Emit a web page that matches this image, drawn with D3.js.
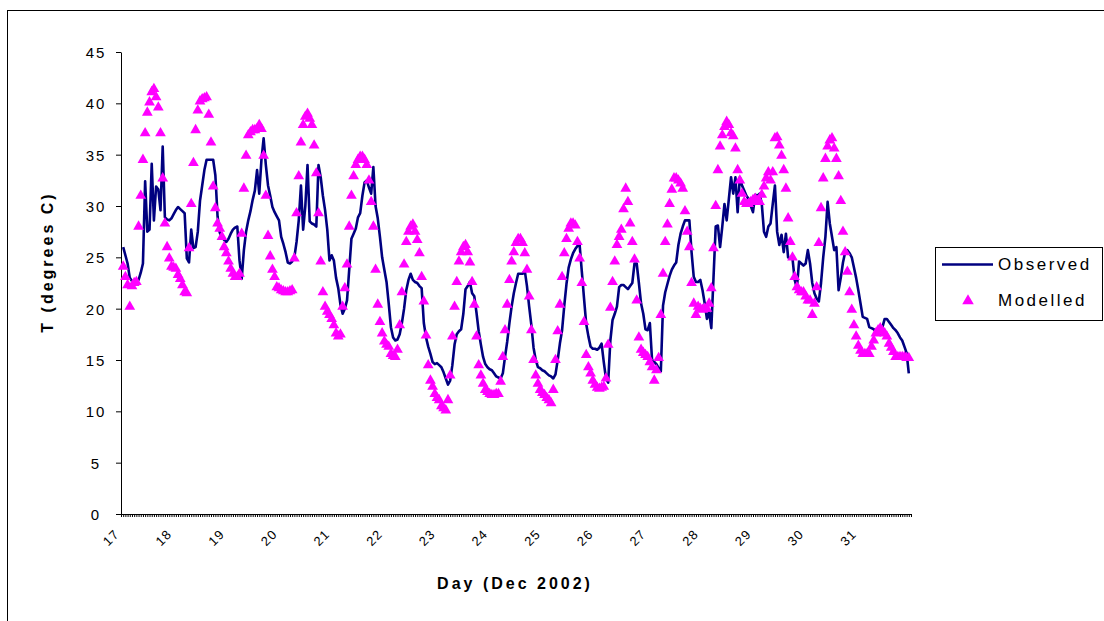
<!DOCTYPE html>
<html>
<head>
<meta charset="utf-8">
<script src="https://cdn.jsdelivr.net/npm/d3@7"></script>
<style>
    body { margin: 0; background: #fff; }
    svg { display: block; font-family: "Liberation Sans", Arial, sans-serif; }
</style>
</head>
<body>
<svg id="chart" width="1104" height="621"></svg>
<script>
// Hourly air temperature, 17 Dec 2002 01:00 to 31 Dec 2002 23:00

var dayLabels = ['17', '18', '19', '20', '21', '22', '23', '24', '25', '26', '27', '28', '29', '30', '31'];
var yTicks = [0, 5, 10, 15, 20, 25, 30, 35, 40, 45];
var seriesNames = ['Observed', 'Modelled'];

var observed = [
    // 17
    26.0, 25.2, 24.4, 23.0, 22.7, 22.6, 22.7, 22.8, 23.5, 24.4, 32.4, 27.5, 27.7, 34.1, 28.6, 31.9, 31.6, 29.6, 35.8, 28.9, 28.7, 28.6, 28.8,
    // 18
    29.2, 29.6, 29.9, 29.7, 29.5, 29.3, 24.9, 24.5, 27.7, 25.9, 26.0, 27.5, 30.5, 32.0, 33.5, 34.5, 34.5, 34.5, 34.5, 33.0, 29.0, 27.4, 27.0, 26.7,
    // 19
    26.5, 26.8, 27.3, 27.7, 27.9, 28.0, 24.7, 22.9, 25.7, 27.5, 28.6, 29.5, 30.6, 31.5, 33.5, 31.2, 34.5, 36.6, 34.0, 32.0, 31.0, 29.9, 29.4, 29.0,
    // 20
    28.6, 27.0, 26.3, 25.5, 24.5, 24.4, 24.6, 25.0, 26.5, 28.6, 32.0, 27.7, 30.0, 34.0, 28.5, 28.3, 28.2, 28.0, 34.0, 32.8, 31.0, 29.6, 27.7, 24.7,
    // 21
    25.2, 24.7, 23.0, 22.0, 20.4, 19.5, 20.0, 20.8, 23.8, 26.8, 27.3, 27.8, 28.9, 29.3, 31.0, 32.3, 32.5, 31.8, 31.2, 33.8, 30.0, 28.8, 27.0, 25.0,
    // 22
    23.8, 22.6, 20.5, 18.2, 17.2, 16.9, 17.0, 17.5, 18.6, 20.0, 21.8, 22.8, 23.4, 22.8, 22.6, 22.5, 22.2, 22.0, 18.6, 17.2, 16.3, 15.6, 14.8, 14.6,
    // 23
    14.7, 14.5, 14.3, 13.8, 13.2, 12.6, 13.0, 14.5, 16.5, 17.5, 17.8, 18.0, 19.5, 21.9, 22.2, 22.6, 21.5, 21.2, 19.6, 17.8, 16.5, 15.3, 14.6, 14.3,
    // 24
    14.1, 14.0, 13.7, 13.4, 13.3, 13.2, 13.7, 15.3, 16.8, 18.6, 20.2, 21.5, 22.5, 23.4, 23.4, 23.4, 23.7, 22.2, 20.2, 18.4, 16.2, 15.0, 14.3, 14.2,
    // 25
    14.0, 13.9, 13.7, 13.5, 13.4, 13.2, 13.6, 15.0, 16.6, 17.9, 20.3, 22.4, 24.0, 24.8, 25.4, 25.8, 26.1, 26.2, 23.6, 21.0, 18.5, 17.3, 16.3, 16.1,
    // 26
    16.1, 16.0, 16.2, 16.6, 14.8, 13.2, 12.8, 16.9, 18.9, 19.5, 20.2, 22.1, 22.3, 22.3, 22.1, 21.9, 22.2, 22.5, 24.4, 24.4, 22.5, 20.5, 19.5, 18.0,
    // 27
    17.9, 18.6, 15.0, 14.8, 14.6, 14.2, 13.9, 20.3, 21.6, 22.4, 23.2, 23.8, 24.2, 24.5, 26.2, 27.3, 28.0, 28.6, 28.6, 28.6, 25.5, 23.1, 22.6, 22.6,
    // 28
    22.8, 21.8, 20.5, 19.0, 19.7, 18.1, 23.0, 28.0, 28.1, 26.0, 28.0, 30.2, 28.6, 30.7, 32.8, 31.2, 32.8, 29.4, 32.8, 32.0, 31.5, 31.0, 30.7, 30.0,
    // 29
    29.4, 31.1, 31.0, 31.2, 30.2, 27.5, 27.0, 28.0, 28.3, 30.2, 32.0, 27.5, 26.2, 27.2, 25.5, 27.3, 25.0, 24.9, 24.9, 22.8, 22.0, 24.6, 24.4, 24.2,
    // 30
    24.4, 25.7, 24.4, 22.5, 21.5, 21.0, 20.7, 22.5, 25.0, 27.0, 30.4, 28.3, 27.0, 25.7, 26.0, 21.8, 23.0, 24.5, 25.5, 25.7, 25.4, 25.0, 24.0, 23.0,
    // 31
    21.8, 20.5, 19.2, 19.1, 19.0, 18.2, 18.1, 18.0, 17.8, 17.7, 17.6, 18.2, 19.0, 19.0, 18.7, 18.4, 18.1, 17.9, 17.6, 17.2, 16.9, 16.3, 15.7, 13.7
];

var modelled = [
    // 17
    24.1, 23.1, 22.3, 20.2, 22.2, 22.5, 22.6, 28.0, 31.0, 34.5, 37.1, 39.1, 40.1, 41.1, 41.4, 40.6, 39.6, 37.1, 32.7, 28.3, 26.0, 24.9, 24.1,
    // 18
    24.0, 23.9, 23.3, 22.9, 22.3, 21.6, 21.5, 25.9, 30.2, 34.2, 37.4, 39.3, 40.2, 40.4, 40.5, 40.6, 38.9, 36.2, 31.9, 29.8, 28.3, 27.8, 27.0, 26.0,
    // 19
    25.4, 24.6, 23.9, 23.4, 23.1, 23.1, 23.4, 27.3, 31.7, 34.9, 36.9, 37.2, 37.4, 37.4, 37.5, 37.9, 37.5, 34.9, 31.0, 27.1, 25.1, 23.8, 23.1, 22.1,
    // 20
    22.0, 21.8, 21.7, 21.6, 21.6, 21.7, 21.8, 24.9, 29.3, 32.9, 36.2, 37.9, 38.7, 39.0, 38.5, 37.9, 35.9, 33.2, 29.3, 24.6, 21.6, 20.2, 19.7, 19.4,
    // 21
    19.0, 18.4, 17.6, 17.3, 17.5, 20.2, 22.0, 24.3, 28.0, 31.0, 32.9, 34.0, 34.5, 34.8, 34.8, 34.5, 34.0, 32.5, 30.4, 28.0, 23.8, 20.4, 18.7, 17.6,
    // 22
    16.8, 16.5, 16.3, 15.6, 15.4, 15.3, 16.0, 18.4, 21.6, 24.3, 26.5, 27.5, 28.0, 28.2, 27.5, 26.7, 25.4, 23.1, 20.7, 17.4, 14.5, 13.0, 12.4, 11.7,
    // 23
    11.3, 11.1, 10.5, 10.3, 10.1, 11.1, 13.5, 17.3, 20.2, 22.6, 24.6, 25.5, 26.0, 26.2, 25.5, 24.5, 22.6, 20.4, 17.3, 14.5, 13.5, 12.7, 12.1, 11.9,
    // 24
    11.7, 11.6, 11.6, 11.7, 11.7, 12.9, 15.3, 17.9, 20.4, 22.8, 24.6, 25.5, 26.4, 26.8, 26.8, 26.4, 25.4, 23.8, 21.2, 17.9, 15.0, 13.5, 12.7, 12.1,
    // 25
    11.8, 11.6, 11.3, 11.1, 10.8, 12.1, 15.0, 17.8, 20.4, 23.1, 25.4, 26.8, 27.8, 28.3, 28.3, 28.1, 26.5, 24.9, 22.5, 18.7, 15.5, 14.3, 13.7, 13.0,
    // 26
    12.6, 12.3, 12.2, 12.3, 12.4, 13.2, 16.5, 20.1, 22.6, 24.6, 26.2, 27.0, 27.7, 29.7, 31.7, 30.4, 28.3, 26.5, 24.8, 20.8, 17.2, 16.0, 15.7, 15.5,
    // 27
    15.3, 14.8, 14.3, 13.0, 14.0, 15.2, 19.4, 23.4, 26.5, 28.2, 30.2, 31.6, 32.7, 32.7, 32.5, 32.2, 31.7, 29.5, 27.5, 26.0, 22.5, 20.5, 19.4, 20.2,
    // 28
    20.0, 19.9, 20.0, 20.0, 20.5, 22.0, 25.9, 30.0, 33.5, 35.8, 36.9, 37.7, 38.2, 37.9, 37.1, 36.8, 35.6, 33.5, 32.5, 31.2, 30.4, 30.2, 30.2, 30.4,
    // 29
    30.6, 30.7, 30.5, 30.4, 31.1, 31.9, 32.7, 33.3, 32.5, 33.3, 36.6, 36.7, 35.9, 34.9, 33.5, 31.7, 28.8, 26.5, 25.0, 23.1, 22.1, 21.8, 21.6, 21.6,
    // 30
    21.2, 20.8, 20.8, 19.4, 20.5, 22.1, 26.4, 29.8, 32.7, 34.6, 35.8, 36.4, 36.6, 35.6, 34.6, 32.9, 30.5, 27.5, 25.5, 23.6, 21.6, 19.9, 18.4, 17.3,
    // 31
    16.4, 15.9, 15.6, 15.6, 15.6, 15.6, 16.3, 16.9, 17.6, 17.9, 18.1, 17.8, 17.6, 17.3, 16.6, 16.2, 15.8, 15.3, 15.3, 15.3, 15.3, 15.3, 15.2, 15.2
];

// hour index of every reading (first reading at 01:00 on the 17th)
var hours = observed.map(function (d, i) { return i + 1; });

var svg = d3.select('#chart');

// chart border
svg.append('rect')
    .attr('x', 7.5).attr('y', 10.5)
    .attr('width', 1110).attr('height', 620)
    .attr('fill', 'none')
    .attr('stroke', '#000');

var x = d3.scaleLinear().domain([0, 360]).range([121, 911]);
var y = d3.scaleLinear().domain([0, 45]).range([514, 52]);

// x axis, one small tick per hour
var xAxis = svg.append('g')
    .attr('transform', 'translate(0,514)')
    .call(d3.axisBottom(x)
        .tickValues(d3.range(0, 361))
        .tickSize(3)
        .tickSizeOuter(0)
        .tickFormat(''));
xAxis.selectAll('line').attr('stroke', '#000');
xAxis.select('.domain').attr('stroke', '#000');

svg.append('g').selectAll('text')
    .data(dayLabels)
    .enter()
    .append('text')
    .attr('transform', function (d, i) {
        return 'translate(' + (x(i * 24) - 1) + ',535) rotate(-45)';
    })
    .attr('text-anchor', 'end')
    .attr('font-size', 13)
    .style('letter-spacing', '1px')
    .text(function (d) { return d; });

// y axis
var yAxis = svg.append('g')
    .attr('transform', 'translate(121,0)')
    .call(d3.axisLeft(y)
        .tickValues(yTicks)
        .tickSize(5)
        .tickSizeOuter(0));
yAxis.select('.domain').attr('stroke', '#000');
yAxis.selectAll('line').attr('stroke', '#000');
yAxis.selectAll('text')
    .attr('x', -25)
    .attr('dy', '0.36em')
    .attr('text-anchor', 'middle')
    .attr('font-size', 15)
    .attr('font-family', '"Liberation Sans", Arial, sans-serif')
    .attr('fill', '#000')
    .style('letter-spacing', '2px');

// axis titles
svg.append('text')
    .attr('transform', 'translate(53,262) rotate(-90)')
    .attr('text-anchor', 'middle')
    .attr('font-size', 16)
    .attr('font-weight', 'bold')
    .style('letter-spacing', '3px')
    .text('T (degrees C)');

svg.append('text')
    .attr('x', 515).attr('y', 589)
    .attr('text-anchor', 'middle')
    .attr('font-size', 16)
    .attr('font-weight', 'bold')
    .style('letter-spacing', '3px')
    .text('Day (Dec 2002)');

// observed line
var line = d3.line()
    .x(function (d, i) { return x(hours[i]); })
    .y(function (d) { return y(d); });

svg.append('path')
    .datum(observed)
    .attr('d', line)
    .attr('fill', 'none')
    .attr('stroke', '#000080')
    .attr('stroke-width', 2.6)
    .attr('stroke-linejoin', 'round');

// modelled markers
var tri = d3.symbol().type(d3.symbolTriangle).size(50);

svg.append('g').selectAll('path')
    .data(modelled)
    .enter()
    .append('path')
    .attr('d', tri)
    .attr('transform', function (d, i) { return 'translate(' + x(hours[i]) + ',' + y(d) + ')'; })
    .attr('fill', '#ff00ff');

// legend
var legend = svg.append('g');
legend.append('rect')
    .attr('x', 935.5).attr('y', 247.5)
    .attr('width', 167).attr('height', 73)
    .attr('fill', '#fff')
    .attr('stroke', '#000');
legend.append('line')
    .attr('x1', 942).attr('x2', 993)
    .attr('y1', 264.5).attr('y2', 264.5)
    .attr('stroke', '#000080')
    .attr('stroke-width', 2.5);
legend.append('path')
    .attr('d', d3.symbol().type(d3.symbolTriangle).size(58))
    .attr('transform', 'translate(968,301)')
    .attr('fill', '#ff00ff');
legend.selectAll('.lbl')
    .data(seriesNames)
    .enter()
    .append('text')
    .attr('class', 'lbl')
    .attr('x', 998)
    .attr('y', function (d, i) { return 270 + i * 36; })
    .attr('font-size', 17)
    .style('letter-spacing', '2.5px')
    .text(function (d) { return d; });
</script>
</body>
</html>
